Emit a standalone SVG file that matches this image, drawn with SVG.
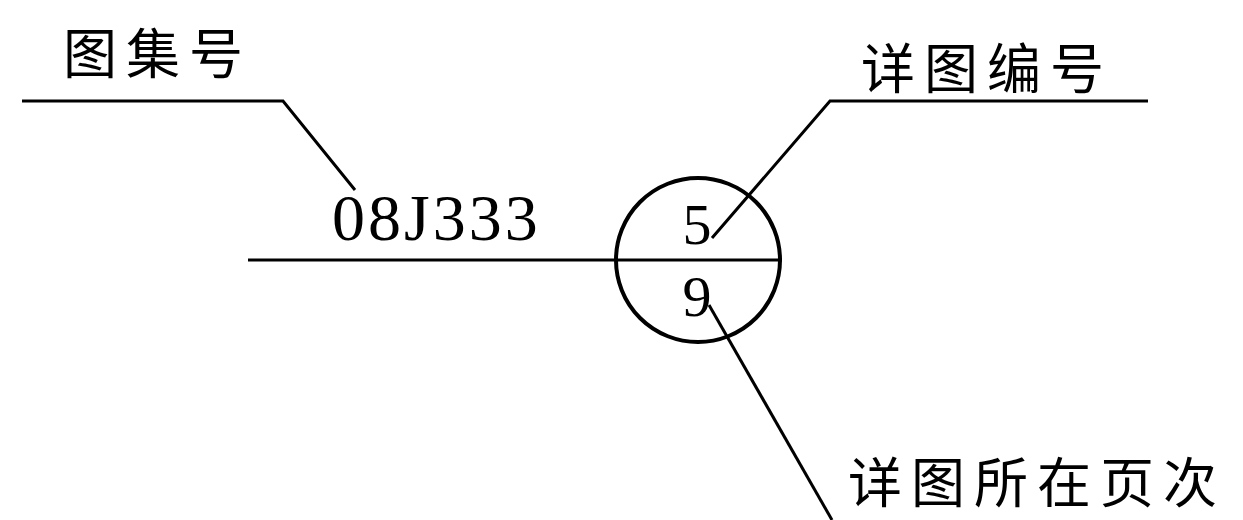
<svg xmlns="http://www.w3.org/2000/svg" width="1243" height="520" viewBox="0 0 1243 520">
<style>
.ln{fill:none;stroke:#000;stroke-width:3;stroke-linecap:butt;stroke-linejoin:miter}
.cjk{font-family:"Noto Sans CJK SC","Noto Sans CJK JP",sans-serif;font-size:54px;fill:#000;letter-spacing:9px}
.num{font-family:"Liberation Serif",serif;fill:#000}
</style>
<rect width="1243" height="520" fill="#fff"/>
<g id="connectors">
<polyline class="ln" points="22,101 283,101 355,190"/>
<polyline class="ln" points="1148,101 830,101 712,238"/>
<line class="ln" x1="709" y1="305" x2="832" y2="520"/>
<line class="ln" x1="248" y1="260" x2="782" y2="260"/>
</g>
<g id="circle">
<circle cx="698" cy="260" r="82" fill="none" stroke="#000" stroke-width="4"/>
<text class="num" x="697" y="244" font-size="58" text-anchor="middle">5</text>
<text class="num" x="697" y="316" font-size="58" text-anchor="middle">9</text>
</g>
<g id="atlas">
<text class="cjk" x="63" y="74">图集号</text>
<text class="num" x="332" y="240" font-size="66" letter-spacing="3">08J333</text>
</g>
<g id="detail-no">
<text class="cjk" x="861" y="89" letter-spacing="11">详图编号</text>
</g>
<g id="detail-page">
<text class="cjk" x="848" y="503" letter-spacing="12">详图所在页次</text>
</g>
</svg>
